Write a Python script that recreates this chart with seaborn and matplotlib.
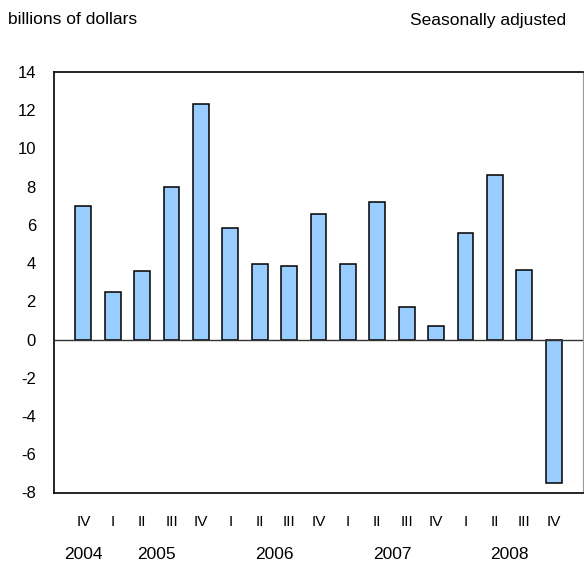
import matplotlib
matplotlib.use('Agg')
import matplotlib.pyplot as plt
import matplotlib.transforms as mtransforms
import pandas as pd
import seaborn as sns

# Quarterly values, 2004 Q4 through 2008 Q4 (billions of dollars)
years = ['2004', '2005', '2005', '2005', '2005', '2006', '2006', '2006', '2006',
         '2007', '2007', '2007', '2007', '2008', '2008', '2008', '2008']
quarters = ['IV', 'I', 'II', 'III', 'IV', 'I', 'II', 'III', 'IV',
            'I', 'II', 'III', 'IV', 'I', 'II', 'III', 'IV']
values = [7.0, 2.5, 3.6, 8.0, 12.3, 5.85, 3.95, 3.85, 6.55,
          3.95, 7.2, 1.7, 0.7, 5.6, 8.6, 3.65, -7.5]
year_labels = ['2004', '2005', '2006', '2007', '2008']

df = pd.DataFrame({'year': years, 'quarter': quarters, 'value': values})
df['period'] = df['year'] + ' ' + df['quarter']

sns.set_style('white')
plt.rcParams['font.family'] = ['Liberation Sans', 'DejaVu Sans']
plt.rcParams['axes.unicode_minus'] = False

fig = plt.figure(figsize=(5.84, 5.63), dpi=100)
ax = fig.add_axes([54 / 584, (563 - 492.5) / 563, 529 / 584, 420.5 / 563])

sns.barplot(data=df, x='period', y='value', color='#99CCFF', saturation=1,
            edgecolor='black', linewidth=1.1, width=0.54, ax=ax)

ax.set_xlim(-1, len(values))
ax.set_ylim(-8, 14)
ax.set_yticks(range(-8, 15, 2))
ax.set_xticks(range(len(values)))
ax.set_xticklabels(df['quarter'])
ax.set_xlabel('')
ax.set_ylabel('')

ax.axhline(0, color='#333333', linewidth=1.0, zorder=3)

for side in ['left', 'top', 'bottom']:
    ax.spines[side].set_color('black')
    ax.spines[side].set_linewidth(1.2)
ax.spines['right'].set_color('#999999')
ax.spines['right'].set_linewidth(0.8)

ax.tick_params(axis='y', direction='in', length=4, width=1, pad=13,
               labelsize=12, colors='black')
ax.tick_params(axis='x', direction='in', length=4, width=1, pad=16,
               labelsize=11, colors='black')

# Year labels centred under their quarters
trans = mtransforms.blended_transform_factory(ax.transData, ax.transAxes)
for yr in year_labels:
    idx = df.index[df['year'] == yr]
    ax.text(idx.values.mean(), -0.148, yr, transform=trans,
            ha='center', va='center', fontsize=12.5, color='black')

fig.text(8 / 584, 1 - 20 / 563, 'billions of dollars', ha='left', va='center',
         fontsize=12.5, color='black')
fig.text(566 / 584, 1 - 20 / 563, 'Seasonally adjusted', ha='right', va='center',
         fontsize=12.5, color='black')

fig.savefig('out.png', dpi=100)
